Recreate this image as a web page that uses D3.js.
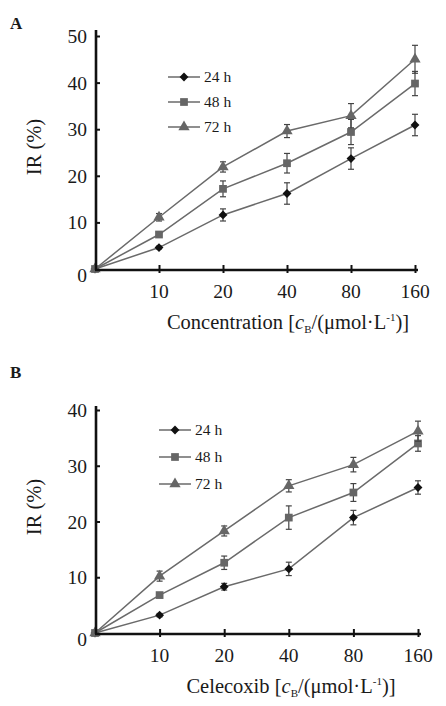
<!DOCTYPE html>
<html>
<head>
<meta charset="utf-8">
<script src="https://cdn.jsdelivr.net/npm/d3@7"></script>
<style>
  body { margin: 0; background: #fff; }
  svg { display: block; }
  text { font-family: 'Liberation Serif', 'Times New Roman', serif; fill: #1a1a1a; }
</style>
</head>
<body>
<div id="chart"></div>
<script>
// categories on the x axis (0 is the origin point, no label)
var doses = ['0', '10', '20', '40', '80', '160']
var seriesNames = ['24 h', '48 h', '72 h']

// panel A: IR (%) means and error half-widths
var a24 = [0, 4.6, 11.6, 16.2, 23.7, 30.9]
var a48 = [0, 7.4, 17.2, 22.7, 29.4, 39.8]
var a72 = [0, 11.1, 21.9, 29.6, 32.9, 45.0]
var a24Err = [0, 0.3, 1.3, 2.3, 2.3, 2.3]
var a48Err = [0, 0.5, 1.7, 2.1, 2.7, 2.6]
var a72Err = [0, 0.8, 1.1, 1.4, 2.6, 3.0]
var aTicks = [0, 10, 20, 30, 40, 50]

// panel B
var b24 = [0, 3.2, 8.3, 11.5, 20.7, 26.1]
var b48 = [0, 6.8, 12.6, 20.7, 25.2, 34.0]
var b72 = [0, 10.2, 18.3, 26.4, 30.2, 36.2]
var b24Err = [0, 0.3, 0.6, 1.2, 1.3, 1.2]
var b48Err = [0, 0.4, 1.2, 2.1, 1.6, 1.4]
var b72Err = [0, 0.9, 0.9, 1.1, 1.3, 1.8]
var bTicks = [0, 10, 20, 30, 40]

!(function () {
  var d3 = this.d3
  var lineColor = '#6a6a6a'
  var markerFill = ['#111', '#666', '#666']
  var markerType = [d3.symbolDiamond2, d3.symbolSquare, d3.symbolTriangle]
  var markerSize = [50, 60, 55]

  var svg = d3.select('#chart').append('svg')
    .attr('width', 446)
    .attr('height', 706)

  function drawPanel (opt) {
    var g = svg.append('g')

    var x = d3.scalePoint().domain(doses).range([opt.x0, opt.x1])
    var y = d3.scaleLinear().domain([0, opt.yMax]).range([opt.y0, opt.y1])

    // letter
    g.append('text')
      .attr('x', 10).attr('y', opt.letterY)
      .style('font-weight', 'bold').style('font-size', '17px')
      .text(opt.letter)

    // series
    var series = [opt.s24, opt.s48, opt.s72]
    var errs = [opt.e24, opt.e48, opt.e72]
    var line = d3.line()
      .x(function (d, i) { return x(doses[i]) })
      .y(function (d) { return y(d) })

    series.forEach(function (vals, k) {
      g.append('path')
        .datum(vals)
        .attr('d', line)
        .attr('fill', 'none')
        .attr('stroke', lineColor)
        .attr('stroke-width', 1.5)

      var eg = g.append('g')
      vals.forEach(function (v, i) {
        var e = errs[k][i]
        if (!e) return
        var cx = x(doses[i])
        eg.append('line')
          .attr('x1', cx).attr('x2', cx)
          .attr('y1', y(v - e)).attr('y2', y(v + e))
          .attr('stroke', '#444').attr('stroke-width', 1.2)
        ;[v - e, v + e].forEach(function (w) {
          eg.append('line')
            .attr('x1', cx - 3).attr('x2', cx + 3)
            .attr('y1', y(w)).attr('y2', y(w))
            .attr('stroke', '#444').attr('stroke-width', 1.2)
        })
      })

      g.append('g').selectAll('path')
        .data(vals)
        .enter()
        .append('path')
        .attr('d', d3.symbol().type(markerType[k]).size(markerSize[k]))
        .attr('transform', function (d, i) { return 'translate(' + x(doses[i]) + ',' + y(d) + ')' })
        .attr('fill', markerFill[k])
    })

    // axes
    var yAxis = d3.axisRight(y).tickValues(opt.ticks.slice(1)).tickSize(5).tickFormat('')
    g.append('g')
      .attr('transform', 'translate(' + opt.x0 + ',0)')
      .call(yAxis)
      .call(function (s) {
        s.select('.domain').remove()
        s.selectAll('line').attr('stroke', '#111').attr('stroke-width', 2)
      })
    g.append('line')
      .attr('x1', opt.x0 + 1).attr('x2', opt.x0 + 1)
      .attr('y1', opt.y0 + 1).attr('y2', opt.axisTop)
      .attr('stroke', '#111').attr('stroke-width', 2.6)

    g.append('g').selectAll('text')
      .data(opt.ticks)
      .enter()
      .append('text')
      .attr('x', 87)
      .attr('y', function (d) { return y(d) + (d === 0 ? 13 : 7) })
      .attr('text-anchor', 'end')
      .style('font-size', '19.5px')
      .text(function (d) { return d })

    var xAxis = d3.axisBottom(x).tickValues(doses.slice(1)).tickSize(8).tickFormat('')
    g.append('g')
      .attr('transform', 'translate(0,' + (opt.y0 - 4) + ')')
      .call(xAxis)
      .call(function (s) {
        s.select('.domain').remove()
        s.selectAll('line').attr('stroke', '#111').attr('stroke-width', 2)
      })
    g.append('line')
      .attr('x1', opt.x0).attr('x2', opt.x1 + 3)
      .attr('y1', opt.y0 + 1).attr('y2', opt.y0 + 1)
      .attr('stroke', '#111').attr('stroke-width', 2.6)

    g.append('g').selectAll('text')
      .data(doses.slice(1))
      .enter()
      .append('text')
      .attr('x', function (d) { return x(d) })
      .attr('y', opt.y0 + 29)
      .attr('text-anchor', 'middle')
      .style('font-size', '19.5px')
      .text(function (d) { return d })

    // axis titles
    var xt = g.append('text')
      .attr('x', opt.titleX).attr('y', opt.y0 + 60)
      .attr('text-anchor', 'middle')
      .style('font-size', '20.5px')
    xt.append('tspan').text(opt.xLabel + ' [')
    xt.append('tspan').style('font-style', 'italic').text('c')
    xt.append('tspan').attr('dy', 4).style('font-size', '11px').text('B')
    xt.append('tspan').attr('dy', -4).text('/(\u03bcmol\u00b7L')
    xt.append('tspan').attr('dy', -8).style('font-size', '11px').text('-1')
    xt.append('tspan').attr('dy', 8).text(')]')

    g.append('text')
      .attr('transform', 'translate(41,' + opt.yLabelY + ') rotate(-90)')
      .attr('text-anchor', 'middle')
      .style('font-size', '20.5px')
      .text('IR (%)')

    // legend
    var lg = g.append('g').attr('transform', 'translate(' + opt.legX + ',' + opt.legY + ')')
    seriesNames.forEach(function (nm, k) {
      var ry = k * opt.legStep
      lg.append('line')
        .attr('x1', 0).attr('x2', 32).attr('y1', ry).attr('y2', ry)
        .attr('stroke', lineColor).attr('stroke-width', 1.5)
      lg.append('path')
        .attr('d', d3.symbol().type(markerType[k]).size(markerSize[k])())
        .attr('transform', 'translate(16,' + ry + ')')
        .attr('fill', markerFill[k])
      lg.append('text')
        .attr('x', 36).attr('y', ry + 5)
        .style('font-size', '15.5px')
        .text(nm)
    })
  }

  drawPanel({
    letter: 'A', letterY: 29,
    x0: 95, x1: 415, y0: 269, y1: 36, yMax: 50, axisTop: 30,
    ticks: aTicks, s24: a24, s48: a48, s72: a72, e24: a24Err, e48: a48Err, e72: a72Err,
    xLabel: 'Concentration', titleX: 288, yLabelY: 147,
    legX: 168, legY: 77, legStep: 25
  })

  drawPanel({
    letter: 'B', letterY: 378,
    x0: 95, x1: 418, y0: 633, y1: 410, yMax: 40, axisTop: 406,
    ticks: bTicks, s24: b24, s48: b48, s72: b72, e24: b24Err, e48: b48Err, e72: b72Err,
    xLabel: 'Celecoxib', titleX: 291, yLabelY: 507,
    legX: 159, legY: 430, legStep: 27
  })
}())
</script>
</body>
</html>
